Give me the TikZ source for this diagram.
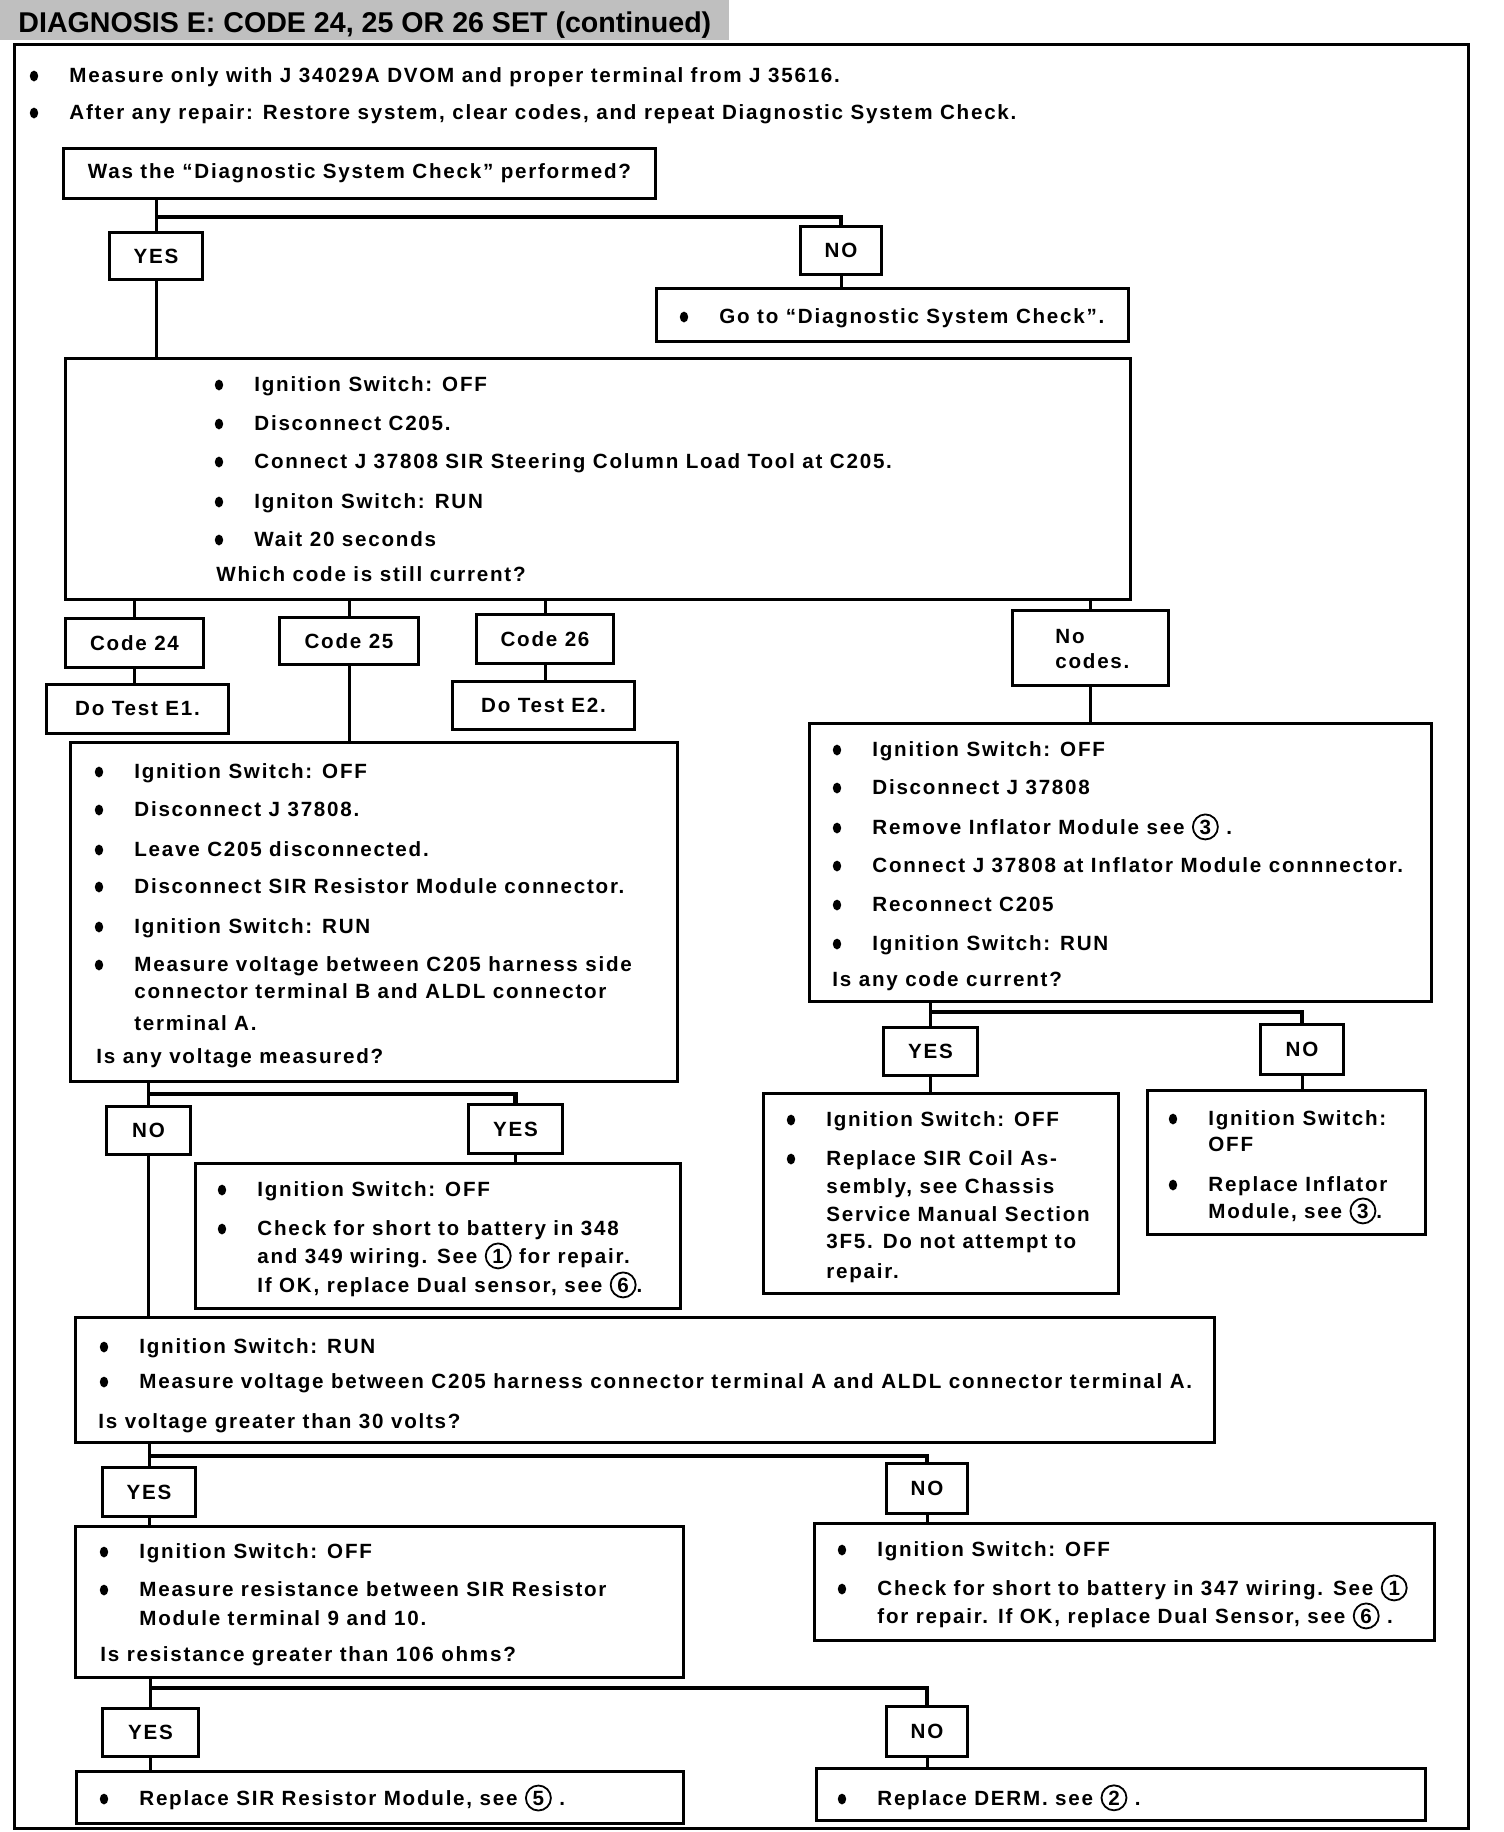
\documentclass[tikz,border=0pt]{standalone}
\usepackage{fontspec}
\setmainfont{Liberation Sans}[LetterSpace=8.5]
\newfontfamily\titlefont{Liberation Sans}
\usetikzlibrary{shapes.geometric}

\newcommand\body{\fontsize{10.3}{14.3}\selectfont\bfseries}
% circled reference number
\newcommand\cnum[1]{\tikz[baseline=(cn.base)]\node[draw,circle,line width=0.9pt,inner sep=0pt,minimum size=12.5pt,font=\body] (cn) {#1};}
% box by its corners: name, x1, y1, x2, y2, text
\newcommand\boxat[6]{\node[box, minimum width={(#4-#2)*0.5pt}, minimum height={(#5-#3)*0.5pt}] (#1) at (#2,#3) {#6};}
% lines of a box: name, text x, list of baseline/bullet/text
\newcommand\itemlist[3]{%
  \foreach \y/\b/\t [count=\i] in {#3} {%
    \ifnum\b=1 \fill (#2-35,\y-6) ellipse (2.1pt and 2.7pt);\fi
    \node[txt] (#1-\i) at (#2,\y) {\t};
  }}

\tikzset{
  box/.style={draw, line width=1.5pt, inner sep=0pt, anchor=north west, font=\body},
  txt/.style={anchor=base west, inner sep=0pt, font=\body},
  wire/.style={line width=1.5pt},
  branch/.style={line width=2.2pt},
}

\begin{document}
\begin{tikzpicture}[x=0.5pt,y=-0.5pt]
  \useasboundingbox (0,0) rectangle (1504,1832);
  \fill[black!25] (0,0) rectangle (729,40);
  \node[anchor=base west, inner sep=0pt, font=\titlefont\fontsize{14.3}{16}\selectfont\bfseries] (title) at (18,32) {DIAGNOSIS E: CODE 24, 25 OR 26 SET (continued)};
  \draw[line width=1.5pt] (14,44) rectangle (1468,1828);

  \itemlist{top}{69}{82/1/{Measure only with J 34029A DVOM and proper terminal from J 35616.},
    119/1/{After any repair: Restore system, clear codes, and repeat Diagnostic System Check.}}

  % boxes
  \boxat{q1}{62}{147}{654}{197}{Was the ``Diagnostic System Check'' performed?}
  \boxat{yes1}{108}{231}{201}{278}{YES}
  \boxat{no1}{799}{225}{880}{273}{NO}
  \boxat{goto}{655}{287}{1127}{340}{}
  \boxat{b1}{64}{357}{1129}{598}{}
  \boxat{c24}{64}{617}{202}{666}{Code 24}
  \boxat{e1}{45}{683}{227}{732}{Do Test E1.}
  \boxat{c25}{278}{616}{417}{663}{Code 25}
  \boxat{c26}{475}{613}{612}{662}{Code 26}
  \boxat{e2}{451}{680}{633}{728}{Do Test E2.}
  \boxat{nc}{1011}{609}{1167}{684}{}
  \boxat{b2}{69}{741}{676}{1080}{}
  \boxat{r1}{808}{722}{1430}{1000}{}
  \boxat{yes2}{882}{1026}{976}{1074}{YES}
  \boxat{no2}{1259}{1023}{1342}{1073}{NO}
  \boxat{r2}{762}{1092}{1117}{1292}{}
  \boxat{r3}{1146}{1089}{1424}{1233}{}
  \boxat{no3}{105}{1105}{189}{1153}{NO}
  \boxat{yes3}{467}{1103}{561}{1152}{YES}
  \boxat{y1}{194}{1162}{679}{1307}{}
  \boxat{b3}{74}{1316}{1213}{1441}{}
  \boxat{yes4}{101}{1466}{194}{1515}{YES}
  \boxat{no4}{885}{1462}{966}{1512}{NO}
  \boxat{b4}{74}{1525}{682}{1676}{}
  \boxat{b5}{813}{1522}{1433}{1639}{}
  \boxat{yes5}{101}{1707}{197}{1755}{YES}
  \boxat{no5}{885}{1705}{966}{1755}{NO}
  \boxat{b6}{75}{1770}{682}{1822}{}
  \boxat{b7}{815}{1767}{1424}{1819}{}

  % texts
  \itemlist{goto}{719}{323/1/{Go to ``Diagnostic System Check''.}}
  \itemlist{b1}{254}{391/1/{Ignition Switch: OFF}, 430/1/{Disconnect C205.},
    468/1/{Connect J 37808 SIR Steering Column Load Tool at C205.},
    508/1/{Igniton Switch: RUN}, 546/1/{Wait 20 seconds}}
  \node[txt] (b1-q) at (216,581) {Which code is still current?};
  \node[txt] (nc-1) at (1055,643) {No};
  \node[txt] (nc-2) at (1055,668) {codes.};
  \itemlist{b2}{134}{778/1/{Ignition Switch: OFF}, 816/1/{Disconnect J 37808.},
    856/1/{Leave C205 disconnected.}, 893/1/{Disconnect SIR Resistor Module connector.},
    933/1/{Ignition Switch: RUN}, 971/1/{Measure voltage between C205 harness side},
    998/0/{connector terminal B and ALDL connector}, 1030/0/{terminal A.}}
  \node[txt] (b2-q) at (96,1063) {Is any voltage measured?};
  \itemlist{r1}{872}{756/1/{Ignition Switch: OFF}, 794/1/{Disconnect J 37808},
    834/1/{Remove Inflator Module see \cnum{3} .},
    872/1/{Connect J 37808 at Inflator Module connnector.},
    911/1/{Reconnect C205}, 950/1/{Ignition Switch: RUN}}
  \node[txt] (r1-q) at (832,986) {Is any code current?};
  \itemlist{r2}{826}{1126/1/{Ignition Switch: OFF}, 1165/1/{Replace SIR Coil As-},
    1193/0/{sembly, see Chassis}, 1221/0/{Service Manual Section},
    1248/0/{3F5. Do not attempt to}, 1278/0/{repair.}}
  \itemlist{r3}{1208}{1125/1/{Ignition Switch:}, 1151/0/{OFF},
    1191/1/{Replace Inflator}, 1218/0/{Module, see \cnum{3}.}}
  \itemlist{y1}{257}{1196/1/{Ignition Switch: OFF}, 1235/1/{Check for short to battery in 348},
    1263/0/{and 349 wiring. See \cnum{1}\ for repair.},
    1292/0/{If OK, replace Dual sensor, see \cnum{6}.}}
  \itemlist{b3}{139}{1353/1/{Ignition Switch: RUN},
    1388/1/{Measure voltage between C205 harness connector terminal A and ALDL connector terminal A.}}
  \node[txt] (b3-q) at (98,1428) {Is voltage greater than 30 volts?};
  \itemlist{b4}{139}{1558/1/{Ignition Switch: OFF}, 1596/1/{Measure resistance between SIR Resistor},
    1625/0/{Module terminal 9 and 10.}}
  \node[txt] (b4-q) at (100,1661) {Is resistance greater than 106 ohms?};
  \itemlist{b5}{877}{1556/1/{Ignition Switch: OFF},
    1595/1/{Check for short to battery in 347 wiring. See \cnum{1}},
    1623/0/{for repair. If OK, replace Dual Sensor, see \cnum{6} .}}
  \itemlist{b6}{139}{1805/1/{Replace SIR Resistor Module, see \cnum{5} .}}
  \itemlist{b7}{877}{1805/1/{Replace DERM. see \cnum{2} .}}

  % connectors
  \draw[wire] (q1.south -| yes1.north) -- (yes1.north);
  \path (yes1.north) ++(0,-14) coordinate (j1);
  \draw[branch] (j1) -| (no1.north);
  \draw[wire] (yes1.south) -- (yes1.south |- b1.north);
  \draw[wire] (no1.south) -- (no1.south |- goto.north);
  \draw[wire] (b1.south -| c24.north) -- (c24.north);
  \draw[wire] (b1.south -| c25.north) -- (c25.north);
  \draw[wire] (b1.south -| c26.north) -- (c26.north);
  \draw[wire] (b1.south -| nc.north) -- (nc.north);
  \draw[wire] (c24.south) -- (c24.south |- e1.north);
  \draw[wire] (c25.south) -- (c25.south |- b2.north);
  \draw[wire] (c26.south) -- (c26.south |- e2.north);
  \draw[wire] (nc.south) -- (nc.south |- r1.north);
  \draw[wire] (r1.south -| yes2.north) -- (yes2.north);
  \path (yes2.north) ++(0,-14) coordinate (j2);
  \draw[branch] (j2) -| (no2.north);
  \draw[wire] (yes2.south) -- (yes2.south |- r2.north);
  \draw[wire] (no2.south) -- (no2.south |- r3.north);
  \draw[wire] (b2.south -| no3.north) -- (no3.north);
  \path (no3.north) ++(0,-11) coordinate (j3);
  \draw[branch] (j3) -| (yes3.north);
  \draw[wire] (yes3.south) -- (yes3.south |- y1.north);
  \draw[wire] (no3.south) -- (no3.south |- b3.north);
  \draw[wire] (b3.south -| yes4.north) -- (yes4.north);
  \path (yes4.north) ++(0,-10) coordinate (j4);
  \draw[branch] (j4) -| (no4.north);
  \draw[wire] (yes4.south) -- (yes4.south |- b4.north);
  \draw[wire] (no4.south) -- (no4.south |- b5.north);
  \draw[wire] (b4.south -| yes5.north) -- (yes5.north);
  \path (yes5.north) ++(0,-19) coordinate (j5);
  \draw[branch] (j5) -| (no5.north);
  \draw[wire] (yes5.south) -- (yes5.south |- b6.north);
  \draw[wire] (no5.south) -- (no5.south |- b7.north);
\end{tikzpicture}
\end{document}
